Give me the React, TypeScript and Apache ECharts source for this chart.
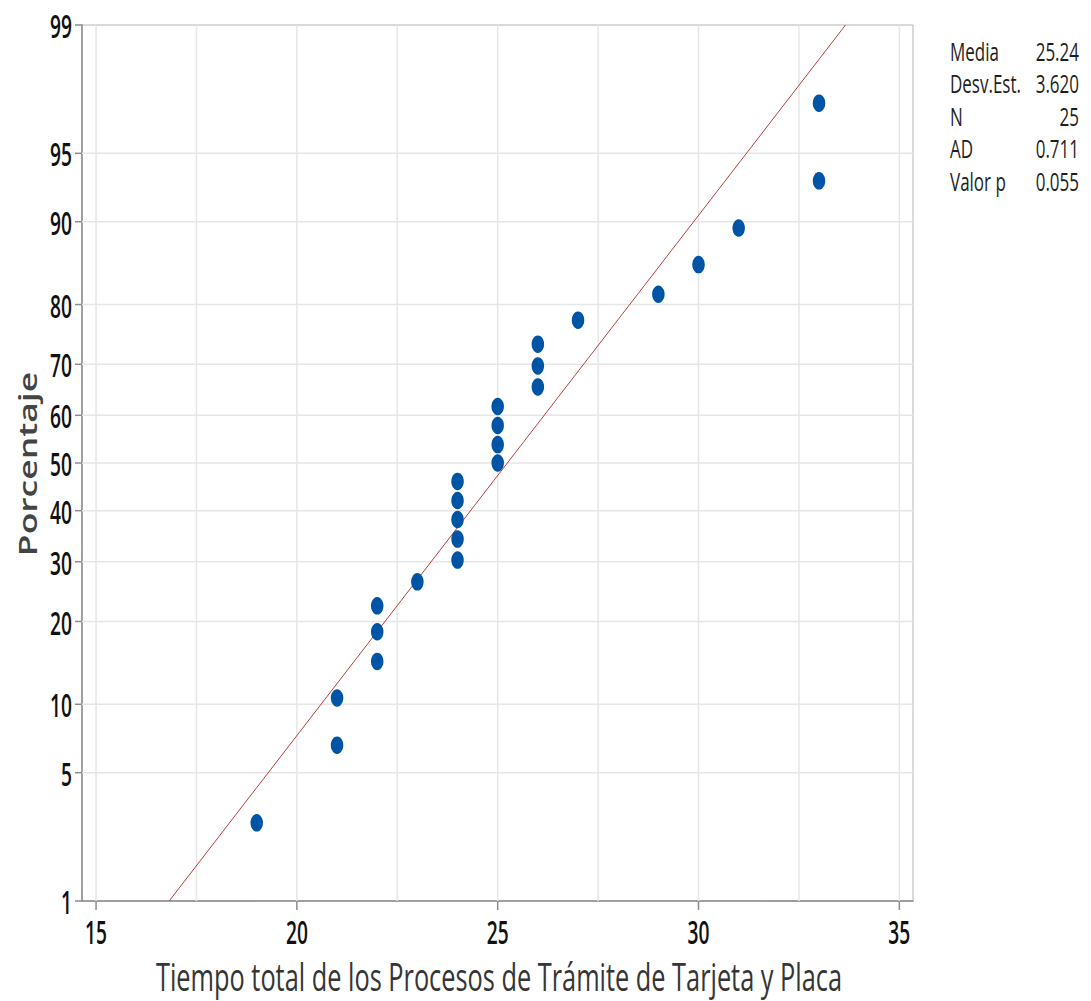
import React, { useEffect, useRef } from "react";
import * as echarts from "echarts";

// ---- data ----
const xValues = [19, 21, 21, 22, 22, 22, 23, 24, 24, 24, 24, 24, 25, 25, 25, 25, 26, 26, 26, 27, 29, 30, 31, 33, 33];
const percentValues = [2.8, 6.7, 10.6, 14.6, 18.5, 22.4, 26.4, 30.3, 34.3, 38.2, 42.1, 46.1, 50.0, 53.9, 57.9, 61.8, 65.7, 69.7, 73.6, 77.6, 81.5, 85.4, 89.4, 93.3, 97.2];
const yTickLabels = [1, 5, 10, 20, 30, 40, 50, 60, 70, 80, 90, 95, 99];
const xTickLabels = [15, 20, 25, 30, 35];
const xGridValues = [15, 17.5, 20, 22.5, 25, 27.5, 30, 32.5, 35];
const fitLine = [
  [16.82, 1],
  [33.66, 99],
];
const statLabels = ["Media", "Desv.Est.", "N", "AD", "Valor p"];
const statValues = ["25.24", "3.620", "25", "0.711", "0.055"];
const xTitle = "Tiempo total de los Procesos de Trámite de Tarjeta y Placa";
const yTitle = "Porcentaje";

const X_MIN = 14.65;
const X_MAX = 35.34;

// inverse standard normal CDF (probability-scale axis transform)
function invNorm(p: number): number {
  const a = [-3.969683028665376e1, 2.209460984245205e2, -2.759285104469687e2, 1.38357751867269e2, -3.066479806614716e1, 2.506628277459239];
  const b = [-5.447609879822406e1, 1.615858368580409e2, -1.556989798598866e2, 6.680131188771972e1, -1.328068155288572e1];
  const c = [-7.784894002430293e-3, -3.223964580411365e-1, -2.400758277161838, -2.549671348283169, 4.374664141464968, 2.938163982698783];
  const d = [7.784695709041462e-3, 3.224671290700398e-1, 2.445134137142996, 3.754408661907416];
  const plow = 0.02425;
  if (p < plow) {
    const q = Math.sqrt(-2 * Math.log(p));
    return (((((c[0] * q + c[1]) * q + c[2]) * q + c[3]) * q + c[4]) * q + c[5]) / ((((d[0] * q + d[1]) * q + d[2]) * q + d[3]) * q + 1);
  }
  if (p <= 1 - plow) {
    const q = p - 0.5;
    const r = q * q;
    return ((((((a[0] * r + a[1]) * r + a[2]) * r + a[3]) * r + a[4]) * r + a[5]) * q) / (((((b[0] * r + b[1]) * r + b[2]) * r + b[3]) * r + b[4]) * r + 1);
  }
  const q = Math.sqrt(-2 * Math.log(1 - p));
  return -(((((c[0] * q + c[1]) * q + c[2]) * q + c[3]) * q + c[4]) * q + c[5]) / ((((d[0] * q + d[1]) * q + d[2]) * q + d[3]) * q + 1);
}
const zOf = (pct: number) => invNorm(pct / 100);

const Y_MIN = zOf(1);
const Y_MAX = zOf(99);

const FONT = "'Open Sans', 'Noto Sans', sans-serif";
const SQ = 0.6; // horizontal squeeze of the reference's text

export default function App() {
  const ref = useRef<HTMLDivElement>(null);

  useEffect(() => {
    document.body.style.margin = "0";
    if (!ref.current) return;
    const chart = echarts.init(ref.current, null, { renderer: "svg" });

    const option: any = {
      animation: false,
      backgroundColor: "#ffffff",
      grid: {
        left: 82,
        right: 178,
        top: 25,
        bottom: 100,
        show: true,
        borderColor: "#b4b4b4",
        borderWidth: 1,
        backgroundColor: "transparent",
      },
      xAxis: {
        type: "value",
        min: X_MIN,
        max: X_MAX,
        axisLine: { show: true, onZero: false, lineStyle: { color: "#8c8c8c", width: 1.5 } },
        axisTick: { show: false },
        axisLabel: { show: false },
        splitLine: { show: false },
      },
      yAxis: {
        type: "value",
        min: Y_MIN,
        max: Y_MAX,
        axisLine: { show: true, onZero: false, lineStyle: { color: "#8c8c8c", width: 1.5 } },
        axisTick: { show: false },
        axisLabel: { show: false },
        splitLine: { show: false },
      },
      series: [
        {
          type: "custom",
          silent: true,
          z: 1,
          data: xGridValues.map((v) => [v, Y_MIN]),
          encode: { x: 0, y: 1 },
          renderItem: (params: any, api: any) => {
            const v = api.value(0);
            const pb = api.coord([v, Y_MIN]);
            const pt = api.coord([v, Y_MAX]);
            const children: any[] = [
              {
                type: "line",
                shape: { x1: pb[0], y1: pb[1], x2: pt[0], y2: pt[1] },
                style: { stroke: "#e6e6e6", lineWidth: 1.5 },
              },
            ];
            if (xTickLabels.indexOf(v) >= 0) {
              children.push({
                type: "line",
                shape: { x1: pb[0], y1: pb[1], x2: pb[0], y2: pb[1] + 9 },
                style: { stroke: "#8c8c8c", lineWidth: 1.5 },
              });
              children.push({
                type: "text",
                x: pb[0],
                y: pb[1] + 31,
                scaleX: SQ,
                style: {
                  text: String(v),
                  fill: "#111111",
                  fontSize: 32,
                  fontWeight: 600,
                  fontFamily: FONT,
                  align: "center",
                  verticalAlign: "middle",
                },
              });
            }
            return { type: "group", children };
          },
        },
        {
          type: "custom",
          silent: true,
          z: 1,
          data: yTickLabels.map((p) => [X_MIN, zOf(p), p]),
          encode: { x: 0, y: 1 },
          renderItem: (params: any, api: any) => {
            const z = api.value(1);
            const pct = api.value(2);
            const pl = api.coord([X_MIN, z]);
            const pr = api.coord([X_MAX, z]);
            const children: any[] = [];
            if (pct !== 1 && pct !== 99) {
              children.push({
                type: "line",
                shape: { x1: pl[0], y1: pl[1], x2: pr[0], y2: pr[1] },
                style: { stroke: "#e6e6e6", lineWidth: 1.5 },
              });
            }
            children.push({
              type: "line",
              shape: { x1: pl[0] - 7, y1: pl[1], x2: pl[0], y2: pl[1] },
              style: { stroke: "#8c8c8c", lineWidth: 1.5 },
            });
            children.push({
              type: "text",
              x: pl[0] - 10,
              y: pl[1] + 1,
              scaleX: SQ,
              style: {
                text: String(pct),
                fill: "#111111",
                fontSize: 32,
                fontWeight: 600,
                fontFamily: FONT,
                align: "right",
                verticalAlign: "middle",
              },
            });
            return { type: "group", children };
          },
        },
        {
          type: "line",
          z: 3,
          silent: true,
          showSymbol: false,
          data: fitLine.map(([x, p]) => [x, zOf(p)]),
          lineStyle: { color: "#b9413f", width: 1 },
        },
        {
          type: "scatter",
          z: 4,
          symbol: "circle",
          symbolSize: [12.5, 17.5],
          itemStyle: { color: "#0054a6", opacity: 1 },
          data: xValues.map((x, i) => [x, zOf(percentValues[i])]),
        },
      ],
      graphic: [
        {
          type: "text",
          x: 499,
          y: 976,
          scaleX: 0.667,
          style: {
            text: xTitle,
            fill: "#353535",
            fontSize: 38,
            fontFamily: FONT,
            align: "center",
            verticalAlign: "middle",
          },
        },
        {
          type: "text",
          x: 27,
          y: 464,
          rotation: Math.PI / 2,
          scaleY: 0.7,
          style: {
            text: yTitle,
            fill: "#444444",
            fontSize: 35.5,
            fontWeight: 600,
            fontFamily: FONT,
            align: "center",
            verticalAlign: "middle",
          },
        },
        ...statLabels.map((t, i) => ({
          type: "text",
          x: 950,
          y: 51 + i * 32.5,
          scaleX: 0.68,
          style: {
            text: t,
            fill: "#1e1e1e",
            fontSize: 25,
            fontFamily: FONT,
            align: "left",
            verticalAlign: "middle",
          },
        })),
        ...statValues.map((t, i) => ({
          type: "text",
          x: 1079,
          y: 51 + i * 32.5,
          scaleX: 0.68,
          style: {
            text: t,
            fill: "#1e1e1e",
            fontSize: 25,
            fontFamily: FONT,
            align: "right",
            verticalAlign: "middle",
          },
        })),
      ],
    };

    chart.setOption(option);
    return () => chart.dispose();
  }, []);

  return <div ref={ref} style={{ width: 1091, height: 1001 }} />;
}
